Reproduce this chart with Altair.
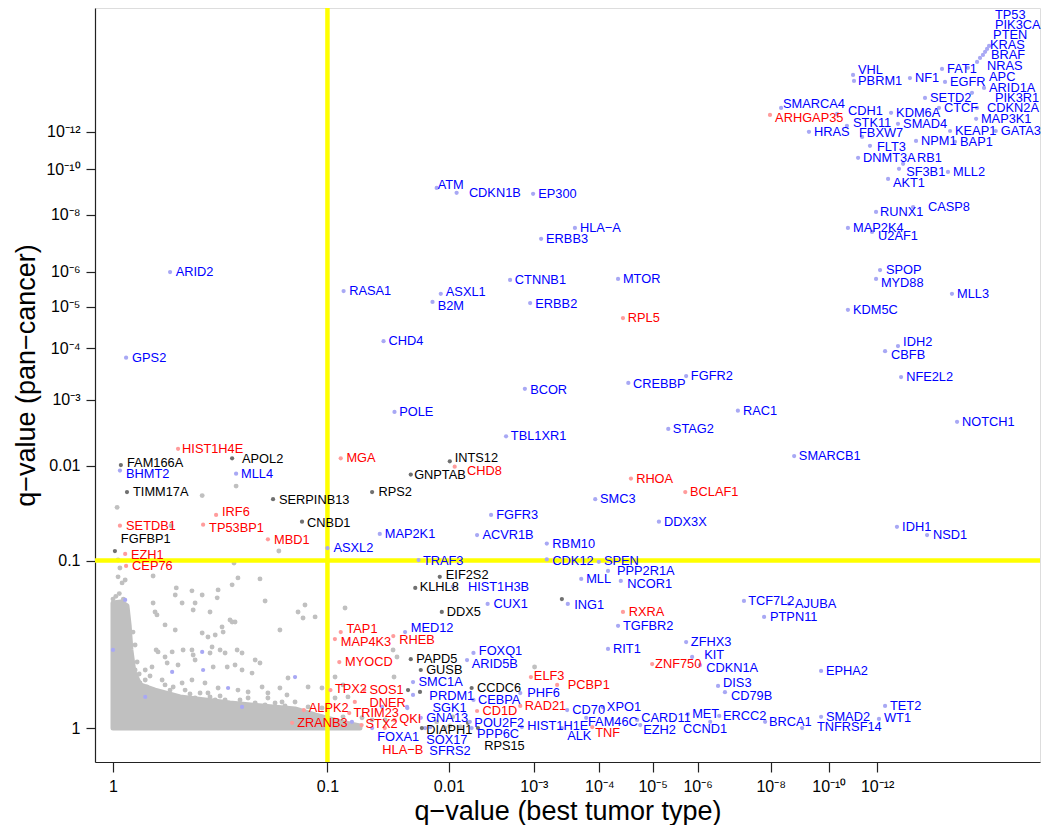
import altair as alt
import pandas as pd

FONT = "Liberation Sans"
OFF = 0.9  # axis warp: positions follow log(-log10(q) + OFF)

# ---------------- labelled genes: -log10(q) best tumor type (x), pan-cancer (y), label anchor
genes = ["TP53","PIK3CA","PTEN","KRAS","BRAF","NRAS","APC","ARID1A","PIK3R1","CDKN2A","MAP3K1","GATA3",
 "FAT1","EGFR","SETD2","CTCF","KDM6A","SMAD4","KEAP1","NPM1","BAP1","NF1","VHL","PBRM1","SMARCA4","ARHGAP35",
 "CDH1","STK11","HRAS","FBXW7","FLT3","DNMT3A","RB1","SF3B1","MLL2","AKT1","CASP8","RUNX1","MAP2K4","U2AF1",
 "SPOP","MYD88","MLL3","KDM5C","IDH2","CBFB","NFE2L2","NOTCH1","SMARCB1","IDH1","NSD1","RAC1",
 "ATM","CDKN1B","EP300","HLA\u2212A","ERBB3","CTNNB1","MTOR","RASA1","ASXL1","B2M","ERBB2","RPL5","CHD4","BCOR",
 "CREBBP","FGFR2","POLE","TBL1XR1","STAG2","MGA","INTS12","CHD8","GNPTAB","RPS2","RHOA","BCLAF1","SMC3","FGFR3",
 "DDX3X","MAP2K1","ACVR1B","RBM10","ASXL2","TRAF3","CDK12","SPEN","PPP2R1A","EIF2S2","MLL","NCOR1","KLHL8",
 "HIST1H3B","DDX5","CUX1","ING1","RXRA","TGFBR2","TCF7L2","AJUBA","PTPN11","RIT1","ZFHX3","KIT","ZNF750",
 "CDKN1A","EPHA2","DIS3","CD79B","TET2","WT1","SMAD2","TNFRSF14","BRCA1","MET","ERCC2","CCND1","CARD11","EZH2",
 "FAM46C","XPO1","CD70","ALK","TNF","HIST1H1E",
 "TAP1","MAP4K3","RHEB","MED12","MYOCD","FOXQ1","ARID5B","PAPD5","GUSB","SMC1A","TPX2","SOS1","DNER","ALPK2",
 "TRIM23","ZRANB3","STX2","QKI","FOXA1","HLA\u2212B","SOX17","SFRS2","DIAPH1","RPS15","PPP6C","POU2F2","CEBPA",
 "CD1D","CCDC6","PRDM1","SGK1","GNA13","ELF3","PHF6","RAD21","PCBP1",
 "ARID2","GPS2","HIST1H4E","FAM166A","APOL2","BHMT2","MLL4","TIMM17A","SERPINB13","IRF6","SETDB1","TP53BP1",
 "CNBD1","FGFBP1","MBD1","EZH1","CEP76"]
red_genes = ["ARHGAP35","RPL5","MGA","CHD8","RHOA","BCLAF1","RXRA","ZNF750","TNF","TAP1","MAP4K3","RHEB",
 "MYOCD","TPX2","SOS1","DNER","ALPK2","TRIM23","ZRANB3","STX2","QKI","HLA\u2212B","CD1D","ELF3","RAD21",
 "PCBP1","HIST1H4E","IRF6","SETDB1","TP53BP1","MBD1","EZH1","CEP76"]
black_genes = ["INTS12","GNPTAB","RPS2","EIF2S2","KLHL8","DDX5","PAPD5","GUSB","DIAPH1","RPS15","CCDC6",
 "FAM166A","APOL2","TIMM17A","SERPINB13","CNBD1","FGFBP1"]
x_q = [18.15,18.02,17.89,17.75,17.56,17.37,16.80,17.82,17.05,17.37,17.31,18.60,
 15.27,15.44,14.34,15.10,12.64,12.97,15.73,13.87,16.02,13.56,10.96,11.00,8.33,7.98,
 10.32,10.71,9.27,11.34,11.68,11.17,13.22,13.02,15.61,12.50,13.72,11.95,10.75,11.77,
 12.13,11.95,15.84,10.75,12.97,12.36,13.12,16.14,8.76,12.92,14.45,7.04,
 1.88,2.08,2.99,3.60,3.10,2.69,4.33,1.11,1.92,1.84,2.95,4.42,1.41,2.88,
 4.52,5.73,1.50,2.64,5.33,1.09,2.01,2.06,1.64,1.32,4.57,5.71,3.93,2.46,
 5.13,1.38,2.30,3.18,1.00,1.71,3.18,3.99,4.15,1.91,3.70,4.38,1.68,
 2.04,1.93,2.42,3.49,4.42,4.33,7.21,8.59,7.80,4.15,5.73,5.87,4.99,
 6.06,9.71,6.51,6.69,12.36,12.08,9.71,9.03,7.83,5.77,6.54,6.31,4.69,4.75,
 3.78,4.06,3.48,3.40,3.88,2.84,
 1.09,1.05,1.49,1.59,1.08,2.26,2.19,1.64,1.73,1.66,1.02,1.26,1.19,0.85,
 1.15,0.78,1.24,1.50,1.32,1.42,1.77,1.82,1.74,2.31,2.24,2.22,2.26,
 2.30,2.24,1.66,1.61,1.73,2.96,2.82,2.82,3.33,
 0.198,0.042,0.229,0.025,0.463,0.022,0.482,0.045,0.672,0.389,0.022,0.332,
 0.839,0.006,0.644,0.039,0.042]
y_q = [18.00,17.75,17.51,17.26,17.02,16.70,16.24,14.77,14.43,13.43,12.75,12.03,
 16.16,15.20,14.09,13.43,13.12,12.45,12.03,11.47,11.42,15.48,15.71,15.27,13.43,12.99,
 13.05,12.33,11.98,11.69,11.20,10.57,10.27,10.02,9.87,9.54,8.31,8.11,7.49,7.34,
 6.05,5.78,5.35,4.92,4.05,3.94,3.41,2.63,2.13,1.31,1.23,2.81,
 9.13,8.91,8.87,7.49,7.09,5.75,5.78,5.43,5.35,5.13,5.10,4.71,4.16,3.19,
 3.30,3.43,2.79,2.41,2.52,2.10,2.06,1.99,1.89,1.68,1.84,1.68,1.60,1.43,
 1.36,1.24,1.23,1.15,1.11,1.005,1.01,0.99,0.914,0.867,0.851,0.835,0.782,
 0.79,0.611,0.666,0.666,0.611,0.52,0.687,0.666,0.578,0.381,0.421,0.336,0.297,
 0.292,0.261,0.186,0.156,0.093,0.037,0.046,0.0,0.025,0.058,0.050,0.025,0.033,0.012,
 0.042,0.088,0.075,0.0,0.004,0.004,
 0.481,0.439,0.457,0.481,0.308,0.358,0.319,0.324,0.266,0.205,0.166,0.166,0.111,0.075,
 0.062,0.021,0.012,0.033,0.0,0.0,0.0,0.004,0.0,0.0,0.0,0.025,0.12,
 0.071,0.176,0.143,0.084,0.042,0.230,0.152,0.093,0.191,
 5.99,3.80,2.23,2.01,2.10,1.94,1.90,1.68,1.60,1.43,1.32,1.33,
 1.36,1.083,1.19,1.057,0.955]
lab_x = [18.55,18.55,18.42,18.21,18.28,18.02,18.15,18.15,18.55,18.02,17.62,18.95,
 15.56,15.73,14.61,15.38,12.88,13.22,16.02,14.13,16.32,13.82,11.17,11.17,8.39,8.14,
 10.75,10.96,9.45,11.21,11.99,11.38,13.92,13.37,15.90,12.73,14.50,12.13,10.96,12.04,
 12.40,12.17,16.14,10.96,13.22,12.64,13.37,16.44,8.92,13.17,14.77,7.18,
 1.89,2.21,3.06,3.68,3.17,2.75,4.42,1.15,1.97,1.89,3.02,4.51,1.45,2.95,
 4.61,5.84,1.54,2.70,5.43,1.13,2.06,2.19,1.67,1.37,4.67,5.82,4.01,2.52,
 5.24,1.42,2.36,3.26,1.04,1.75,3.26,4.08,4.31,1.97,3.78,4.50,1.72,
 2.20,1.98,2.49,3.59,4.53,4.42,7.33,8.79,7.98,4.24,5.84,6.16,5.05,
 6.21,9.89,6.64,6.85,12.59,12.31,9.89,9.56,7.95,5.87,6.64,5.66,4.77,4.81,
 3.81,4.13,3.56,3.48,3.93,2.91,
 1.13,1.09,1.54,1.64,1.12,2.32,2.24,1.69,1.78,1.71,1.05,1.30,1.30,0.88,
 1.18,0.81,1.27,1.54,1.36,1.40,1.78,1.81,1.78,2.38,2.30,2.27,2.31,
 2.36,2.30,1.81,1.84,1.78,3.00,2.91,2.88,3.49,
 0.22,0.062,0.245,0.045,0.511,0.042,0.506,0.065,0.705,0.416,0.042,0.358,
 0.870,0.025,0.677,0.058,0.062]
lab_y = [20.81,19.82,18.92,18.05,17.22,16.39,15.56,14.77,14.09,13.43,12.75,12.03,
 16.16,15.20,14.09,13.43,13.12,12.45,12.03,11.47,11.42,15.48,16.08,15.27,13.69,12.81,
 13.24,12.51,11.98,11.92,11.15,10.57,10.57,9.87,9.87,9.36,8.31,8.11,7.49,7.20,
 6.05,5.66,5.35,4.92,4.14,3.86,3.41,2.63,2.13,1.31,1.23,2.81,
 9.27,8.91,8.87,7.49,7.09,5.75,5.78,5.43,5.40,5.02,5.08,4.71,4.16,3.17,
 3.28,3.43,2.79,2.41,2.52,2.10,2.10,1.94,1.89,1.68,1.84,1.68,1.60,1.43,
 1.36,1.24,1.23,1.15,1.11,1.00,1.00,1.00,0.914,0.88,0.851,0.812,0.79,
 0.79,0.611,0.666,0.659,0.611,0.52,0.687,0.666,0.578,0.381,0.421,0.347,0.297,
 0.276,0.261,0.200,0.138,0.093,0.042,0.046,0.004,0.025,0.058,0.050,-0.004,0.042,-0.008,
 0.025,0.088,0.075,-0.031,-0.020,0.008,
 0.50,0.421,0.433,0.507,0.308,0.369,0.297,0.324,0.266,0.205,0.171,0.166,0.106,0.084,
 0.062,0.021,0.016,0.037,-0.035,-0.084,-0.047,-0.088,-0.008,-0.069,-0.023,0.021,0.12,
 0.071,0.176,0.138,0.084,0.042,0.235,0.152,0.093,0.191,
 5.99,3.80,2.23,2.04,2.09,1.90,1.90,1.68,1.59,1.46,1.32,1.30,
 1.35,1.19,1.18,1.05,0.955]

# ---------------- unlabelled genes (grey cloud), -log10(q)
bg_x = [0.016,0.022,0.016,0.029,0.039,0.135,0.472,0.602,0.463,0.222,0.218,0.285,0.328,0.398,0.394,
 0.629,0.135,0.245,0.290,0.298,0.142,0.149,0.362,0.453,0.463,0.477,0.815,0.857,0.845,0.920,1.120,
 0.710,0.179,0.218,0.328,0.353,0.385,0.416,0.421,0.146,0.153,0.179,0.206,0.249,0.285,0.290,0.298,
 0.362,0.371,0.407,0.430,0.487,0.511,0.577,0.072,0.107,0.131,0.187,0.229,0.376,0.440,0.477,0.511,
 0.561,0.602,0.756,0.876,0.964,0.072,0.089,0.113,0.168,0.210,0.245,0.285,0.340,0.398,0.491,0.541,
 0.613,0.644,0.710,0.750,0.149,0.210,0.245,0.298,0.353,0.385,0.541,0.644,0.722,0.797,0.876,0.964,
 1.051,1.106,1.051,1.141,1.106,1.243,1.320,1.423,1.488,1.521,1.496,
 0.013,0.328,0.482,0.202,0.704,0.491,3.01,1.88,2.04,2.01,2.12,1.96,
 0.107,0.124,0.179,0.198,0.257,0.277,0.319,0.362,0.407,0.430,0.501,0.577,0.629,0.683,0.739,
 0.079,0.086,0.065,0.072,0.0,0.009,0.033,0.02]
bg_y = [1.005,0.938,0.867,0.82,0.843,0.874,0.98,0.851,0.805,0.782,0.73,0.76,0.73,0.767,0.709,
 0.687,0.673,0.673,0.624,0.673,0.611,0.591,0.611,0.558,0.545,0.545,0.611,0.659,0.571,0.578,0.638,
 0.494,0.526,0.494,0.475,0.451,0.463,0.513,0.481,0.375,0.364,0.336,0.364,0.375,0.375,0.347,0.319,
 0.358,0.392,0.375,0.358,0.375,0.358,0.319,0.266,0.266,0.282,0.303,0.292,0.282,0.282,0.292,0.266,
 0.250,0.303,0.225,0.181,0.176,0.225,0.200,0.181,0.215,0.181,0.200,0.215,0.200,0.176,0.166,0.157,
 0.181,0.152,0.176,0.143,0.120,0.134,0.129,0.129,0.152,0.120,0.129,0.129,0.111,0.111,0.089,0.084,
 0.230,0.191,0.129,0.134,0.046,0.042,0.033,0.033,0.375,0.336,0.230,
 1.51,1.64,1.75,1.32,1.083,0.859,0.282,0.025,0.046,0.008,0.004,0.0,
 0.215,0.235,0.191,0.166,0.166,0.148,0.152,0.134,0.138,0.120,0.120,0.106,0.098,0.106,0.093,
 0.308,0.245,0.481,0.404,0.70,0.72,0.70,0.74]
# densest part of the cloud: upper envelope of the solid mass (floor at q = 1)
mass_x = [0.0,0.025,0.045,0.052,0.058,0.068,0.089,0.142,0.237,0.453,0.797,0.920,1.017,1.12,1.228]
mass_top = [0.673,0.68,0.652,0.526,0.375,0.256,0.191,0.166,0.134,0.106,0.080,0.054,0.037,0.021,0.008]
# unlabelled coloured genes hidden in the cloud
ex_x = [0.039,0.0,0.328,0.206,0.332,0.797,0.444,0.107,0.511,1.169,1.398,1.607,1.616,1.723,3.40,2.20]
ex_y = [0.694,0.375,0.364,0.256,0.266,0.23,0.176,0.134,0.089,0.025,0.089,0.089,0.166,0.157,0.70,0.021]
ex_g = ["b","b","b","b","b","b","b","b","b","b","b","b","k","k","k","k"]

# axis ticks (-log10 q) and labels
tick_vals = [0, 1, 2, 3, 4, 5, 6, 8, 10, 12]
tick_labels = ["1", "0.1", "0.01", "10\u207b\u00b3", "10\u207b\u2074", "10\u207b\u2075",
               "10\u207b\u2076", "10\u207b\u2078", "10\u207b\u00b9\u2070", "10\u207b\u00b9\u00b2"]
threshold = [1.0]

def label_expr(vals, labs):
    expr = "'" + labs[-1] + "'"
    for i in range(len(vals) - 2, -1, -1):
        mid = (vals[i] + vals[i + 1]) / 2 + OFF
        expr = f"datum.value < {mid} ? '{labs[i]}' : ({expr})"
    return expr

axis_vals = [v + OFF for v in tick_vals]
common = dict(values=axis_vals, labelExpr=label_expr(tick_vals, tick_labels), grid=False,
              labelFont=FONT, labelFontSize=16, labelColor="black", titleFont=FONT,
              titleFontSize=27, titleFontWeight="normal", titleColor="black",
              domainColor="#222222", domainWidth=1.2, tickColor="#222222", tickWidth=1.2,
              labelOverlap=False, labelFlush=False, labelBound=False)
ax_x = alt.Axis(title="q\u2212value (best tumor type)", tickSize=10, labelPadding=6,
                titleY=49, titleBaseline="middle", **common)
ax_y = alt.Axis(title="q\u2212value (pan\u2212cancer)", tickSize=9, labelPadding=6,
                titleX=-69, titleY=367, titleBaseline="middle", titleAlign="center", **common)
xs = alt.Scale(type="log", domain=[0.8453, 22.75], nice=False)
ys = alt.Scale(type="log", domain=[0.7733, 22.39], nice=False)

def X(f): return alt.X(f, type="quantitative", scale=xs, axis=ax_x)
def Y(f): return alt.Y(f, type="quantitative", scale=ys, axis=ax_y)

calc = dict(xs=f"datum.x + {OFF}", ys=f"datum.y + {OFF}")
colexpr_pt = "datum.g == 'b' ? '#A8A8F4' : datum.g == 'r' ? '#FF9C9C' : '#707070'"
colexpr_tx = "datum.g == 'b' ? '#0000FF' : datum.g == 'r' ? '#FF0000' : '#000000'"

grp = ["r" if g in red_genes else ("k" if g in black_genes else "b") for g in genes]
df_genes = pd.DataFrame({"gene": genes, "g": grp, "x": x_q, "y": y_q, "lx": lab_x, "ly": lab_y})
df_bg = pd.DataFrame({"x": bg_x, "y": bg_y})
df_mass = pd.DataFrame({"x": mass_x, "y": mass_top, "y0": [0.0] * len(mass_x)})
df_ex = pd.DataFrame({"x": ex_x, "y": ex_y, "g": ex_g})
df_thr = pd.DataFrame({"x": threshold, "y": threshold})

GREY = "#C0C0C0"
mass = alt.Chart(df_mass).transform_calculate(**calc, ys0=f"datum.y0 + {OFF}").mark_area(
    color=GREY, stroke=GREY, strokeWidth=5, strokeJoin="round").encode(
    x=X("xs"), y=Y("ys"), y2="ys0:Q")
bg = alt.Chart(df_bg).transform_calculate(**calc).mark_circle(
    color=GREY, opacity=1, size=24).encode(x=X("xs"), y=Y("ys"))
vline = alt.Chart(df_thr).transform_calculate(**calc).mark_rule(
    color="#FFFF00", strokeWidth=4.5).encode(x=X("xs"))
hline = alt.Chart(df_thr).transform_calculate(**calc).mark_rule(
    color="#FFFF00", strokeWidth=4.5).encode(y=Y("ys"))
ex = alt.Chart(df_ex).transform_calculate(**calc, c=colexpr_pt).mark_circle(
    opacity=1, size=18).encode(x=X("xs"), y=Y("ys"), color=alt.Color("c:N", scale=None))
pts = alt.Chart(df_genes).transform_calculate(**calc, c=colexpr_pt).mark_circle(
    opacity=1, size=18).encode(x=X("xs"), y=Y("ys"), color=alt.Color("c:N", scale=None))
txt = alt.Chart(df_genes).transform_calculate(
    xs=f"datum.lx + {OFF}", ys=f"datum.ly + {OFF}", c=colexpr_tx).mark_text(
    align="left", baseline="middle", font=FONT, fontSize=12.8).encode(
    x=X("xs"), y=Y("ys"), text="gene:N", color=alt.Color("c:N", scale=None))

chart = alt.layer(mass, bg, vline, hline, ex, pts, txt).properties(
    width=945, height=754,
    autosize=alt.AutoSizeParams(type="none"),
    padding={"left": 87, "top": 0, "right": 2, "bottom": 63},
).configure_view(stroke=None).configure(background="white")

chart.save("out.html", embed_options={"renderer": "svg", "actions": False})
